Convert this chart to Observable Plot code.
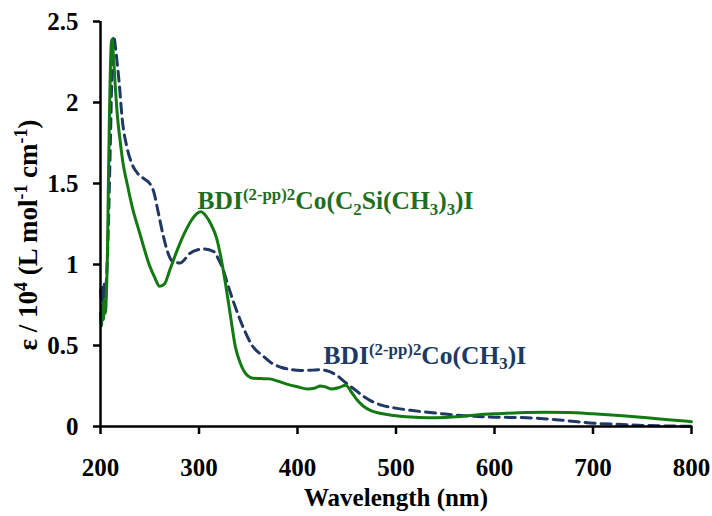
<!DOCTYPE html>
<html>
<head>
<meta charset="utf-8">
<script src="https://cdn.jsdelivr.net/npm/d3@7"></script>
<script src="https://cdn.jsdelivr.net/npm/@observablehq/plot@0.6"></script>
<style>
  html, body { margin: 0; padding: 0; background: white; }
</style>
</head>
<body>
<div id="chart"></div>
<script>
// ---- Data ----
const greenNm = [200,201,202,203,204,205,206,207,208,209,210,211,211.8,213,215,217,220,223,227,232,240,250,255,260,265,270,278,285,292,298,302,307,312,318,323,328,332,337,342,349,355,362,372,380,390,400,410,418,423,428,435,442,449,455,461,467,474,485,498,515,532,550,566,586,600,625,650,675,700,730,755,780,800];
const greenEps = [0.70,0.62,0.76,0.66,0.78,0.70,0.82,1.05,1.50,1.90,2.20,2.37,2.39,2.30,2.10,1.93,1.76,1.62,1.50,1.36,1.19,0.99,0.92,0.865,0.88,0.96,1.09,1.19,1.27,1.315,1.325,1.30,1.25,1.16,1.02,0.84,0.68,0.49,0.39,0.315,0.298,0.296,0.294,0.28,0.26,0.245,0.232,0.238,0.25,0.245,0.232,0.24,0.255,0.21,0.16,0.125,0.10,0.08,0.068,0.058,0.054,0.056,0.062,0.074,0.078,0.085,0.088,0.086,0.078,0.066,0.054,0.04,0.03];

const navyNm = [200,201,202,203,204,205,206,207,208.5,210,211.5,212.5,213.5,215,217,219,222,227,232,238,244,250,254,258,264,268,273,281,291,298,305,315,320,325,329,335,345,354,366,374,383,395,403,415,423,432,440,449,457,466,474,486,498,515,532,550,566,583,600,618,633,653,675,701,730,755,780,800];
const navyEps = [0.84,0.78,0.86,0.76,0.88,0.80,0.90,1.05,1.35,1.75,2.15,2.35,2.41,2.35,2.24,2.12,1.90,1.72,1.62,1.56,1.53,1.50,1.45,1.34,1.17,1.08,1.02,1.01,1.07,1.09,1.095,1.08,1.03,0.96,0.88,0.77,0.61,0.50,0.43,0.39,0.366,0.35,0.346,0.348,0.35,0.34,0.315,0.27,0.233,0.19,0.16,0.13,0.115,0.10,0.088,0.077,0.068,0.062,0.057,0.056,0.054,0.047,0.035,0.02,0.012,0.006,0.003,0.001];

const xTicks = [200,300,400,500,600,700,800];
const yTicks = [0,0.5,1,1.5,2,2.5];

const seriesLabels = ["BDI^{(2-pp)2}Co(C_{2}Si(CH_{3})_{3})I", "BDI^{(2-pp)2}Co(CH_{3})I"];
const labelNm = [298.5, 426.5];
const labelEps = [1.39, 0.438];
const seriesColors = ["#137a13", "#203864"];
const labelColors = ["#1f6e1f", "#203864"];

const xTitle = "Wavelength (nm)";
const yTitle = "ε / 10^{4} (L mol^{-1} cm^{-1})";

// ---- Build tables ----
const green = greenNm.map((x, i) => ({x, y: greenEps[i]}));
const navy = navyNm.map((x, i) => ({x, y: navyEps[i]}));
const labels = seriesLabels.map((t, i) => ({t, x: labelNm[i], y: labelEps[i], c: labelColors[i]}));

const FONT = "'Liberation Serif', 'Times New Roman', serif";

const plot = Plot.plot({
  width: 712,
  height: 516,
  marginLeft: 100,
  marginRight: 21,
  marginTop: 21,
  marginBottom: 90,
  style: {fontFamily: FONT, fontSize: "25px", fontWeight: "bold", color: "black", background: "white"},
  x: {domain: [200, 800]},
  y: {domain: [0, 2.5]},
  marks: [
    Plot.line(navy, {x: "x", y: "y", stroke: seriesColors[1], strokeWidth: 3, strokeDasharray: "10,6", curve: "monotone-x"}),
    Plot.line(green, {x: "x", y: "y", stroke: seriesColors[0], strokeWidth: 3, curve: "monotone-x"}),
    Plot.ruleY([0], {x1: 200, x2: 800, stroke: "black", strokeWidth: 2.5}),
    Plot.ruleX([200], {y1: 0, y2: 2.5, stroke: "black", strokeWidth: 2.5}),
    Plot.axisX({ticks: xTicks, tickSize: 8, tickPadding: 24, strokeWidth: 2.5, tickFormat: d => String(d),
      label: xTitle, labelAnchor: "center", labelArrow: "none", labelOffset: 79}),
    Plot.axisY({ticks: yTicks, tickSize: 7, tickPadding: 15, strokeWidth: 2.5, tickFormat: d => String(d), label: null}),
    Plot.text([yTitle], {frameAnchor: "left", dx: -72, dy: 126.5, rotate: -90, textAnchor: "start", text: d => d, fill: "black", fontSize: 27}),
    Plot.text(labels, {x: "x", y: "y", text: "t", fill: "c", textAnchor: "start", fontSize: 25.5})
  ]
});

document.getElementById("chart").appendChild(plot);

// ---- Render ^{...} / _{...} markup as real superscript / subscript tspans ----
function richify(root) {
  root.querySelectorAll("text").forEach(t => {
    const s = t.textContent;
    if (!/[\^_]\{/.test(s)) return;
    const fs = parseFloat(getComputedStyle(t).fontSize) || 25;
    const parts = s.match(/\^\{[^}]*\}|_\{[^}]*\}|[^\^_]+/g);
    while (t.firstChild) t.removeChild(t.firstChild);
    let cur = 0;
    for (const p of parts) {
      let txt = p, size = fs, target = 0;
      if (p.startsWith("^{")) { txt = p.slice(2, -1); size = fs * 0.66; target = -0.36 * fs; }
      else if (p.startsWith("_{")) { txt = p.slice(2, -1); size = fs * 0.66; target = 0.2 * fs; }
      const ts = document.createElementNS("http://www.w3.org/2000/svg", "tspan");
      ts.setAttribute("font-size", size);
      const dy = target - cur;
      if (dy !== 0) ts.setAttribute("dy", dy);
      ts.textContent = txt;
      t.appendChild(ts);
      cur = target;
    }
  });
}
richify(plot);
</script>
</body>
</html>
